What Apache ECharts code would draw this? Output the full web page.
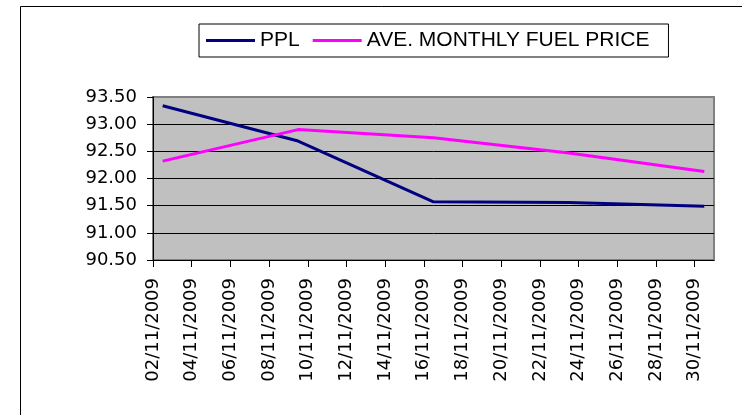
<!DOCTYPE html>
<html>
<head>
<meta charset="utf-8">
<script src="https://cdn.jsdelivr.net/npm/echarts@6/dist/echarts.min.js"></script>
<style>
    html, body { margin: 0; padding: 0; background: #fff; }
    #chart { width: 742px; height: 415px; }
</style>
</head>
<body>
<div id="chart"></div>
<script>
// days of November 2009 (points sit mid-day)
var pointDays = [2.5, 9.5, 16.5, 23.5, 30.5];
var pplValues = [93.34, 92.69, 91.57, 91.56, 91.49];
var fuelValues = [92.32, 92.90, 92.75, 92.47, 92.13];
var tickDays = [2, 4, 6, 8, 10, 12, 14, 16, 18, 20, 22, 24, 26, 28, 30];
var tickLabels = ['02/11/2009', '04/11/2009', '06/11/2009', '08/11/2009', '10/11/2009',
    '12/11/2009', '14/11/2009', '16/11/2009', '18/11/2009', '20/11/2009',
    '22/11/2009', '24/11/2009', '26/11/2009', '28/11/2009', '30/11/2009'];
var seriesNames = ['PPL', 'AVE. MONTHLY FUEL PRICE'];

function pairs(xs, ys) {
    return xs.map(function (x, i) { return [x, ys[i]]; });
}

var chart = echarts.init(document.getElementById('chart'));
var font = 'Arial, "Liberation Sans", sans-serif';
var axisFont = '"DejaVu Sans", sans-serif';

chart.setOption({
    animation: false,
    textStyle: { fontFamily: font },
    graphic: [{
        type: 'rect',
        shape: { x: 20.5, y: 6.5, width: 760, height: 440 },
        style: { fill: 'none', stroke: '#000', lineWidth: 1 },
        silent: true
    }],
    legend: {
        left: 199,
        top: 24,
        padding: [6, 19, 6, 7],
        borderColor: '#000',
        borderWidth: 1,
        icon: 'rect',
        itemWidth: 49,
        itemHeight: 3,
        itemGap: 13,
        textStyle: { fontSize: 21, color: '#000', fontFamily: font },
        data: seriesNames
    },
    grid: {
        show: true,
        left: 153,
        top: 97,
        right: 28,
        bottom: 155,
        backgroundColor: '#c0c0c0',
        borderColor: '#808080',
        borderWidth: 2,
        containLabel: false
    },
    xAxis: {
        type: 'value',
        min: 2,
        max: 31,
        interval: 2,
        axisLine: { show: true, lineStyle: { color: '#000', width: 1 } },
        axisTick: {
            show: true,
            length: 7,
            customValues: tickDays,
            lineStyle: { color: '#000' }
        },
        axisLabel: {
            rotate: 90,
            margin: 18,
            fontSize: 18,
            color: '#000',
            fontFamily: axisFont,
            customValues: tickDays,
            formatter: function (v) {
                return tickLabels[tickDays.indexOf(v)] || '';
            }
        },
        splitLine: { show: false }
    },
    yAxis: {
        type: 'value',
        min: 90.5,
        max: 93.5,
        interval: 0.5,
        axisLine: { show: true, lineStyle: { color: '#000', width: 1 } },
        axisTick: { show: true, length: 6, lineStyle: { color: '#000' } },
        axisLabel: {
            margin: 16,
            fontSize: 18,
            color: '#000',
            fontFamily: axisFont,
            formatter: function (v) { return v.toFixed(2); }
        },
        splitLine: {
            show: true,
            showMinLine: false,
            showMaxLine: false,
            lineStyle: { color: '#000', width: 1 }
        }
    },
    series: [{
        name: seriesNames[0],
        type: 'line',
        symbol: 'none',
        data: pairs(pointDays, pplValues),
        itemStyle: { color: '#000080' },
        lineStyle: { color: '#000080', width: 3 }
    }, {
        name: seriesNames[1],
        type: 'line',
        symbol: 'none',
        data: pairs(pointDays, fuelValues),
        itemStyle: { color: '#ff00ff' },
        lineStyle: { color: '#ff00ff', width: 3 }
    }]
});
</script>
</body>
</html>
